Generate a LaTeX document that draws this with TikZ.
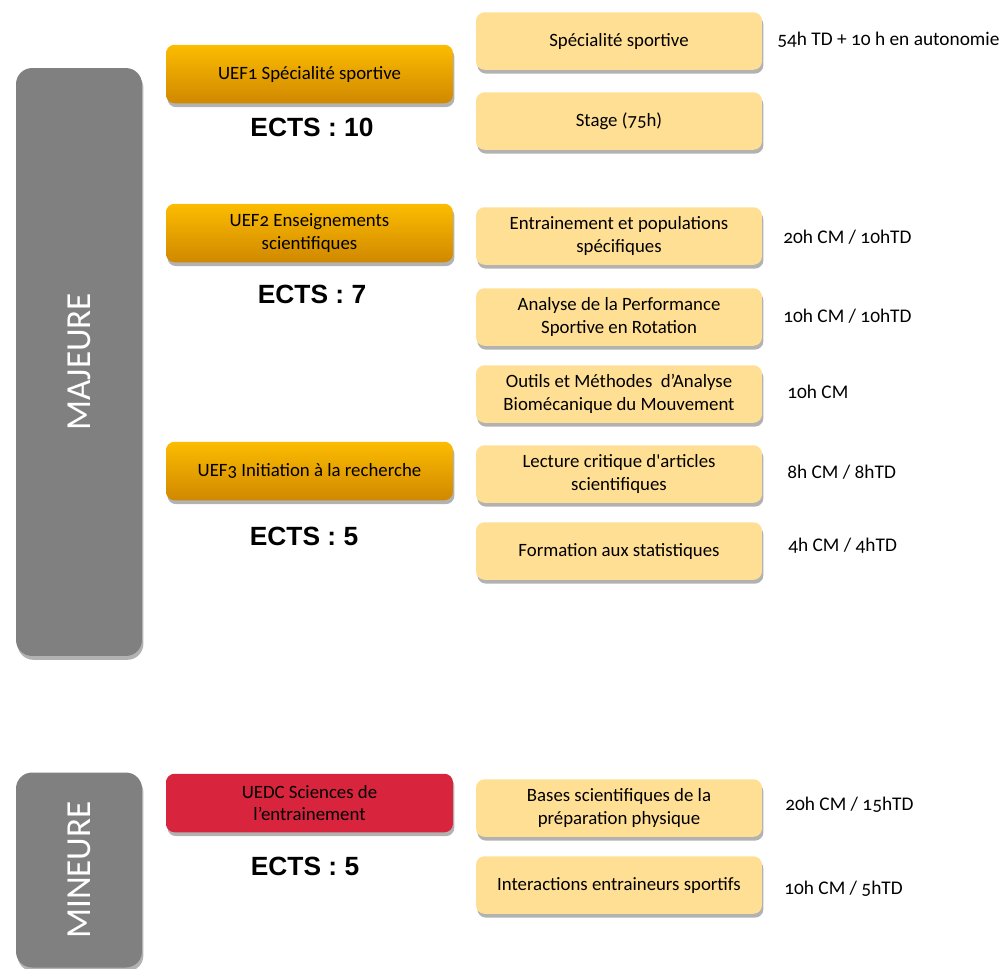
\documentclass[tikz,border=0pt]{standalone}
\usepackage{fontspec}
\setmainfont{Carlito}[Numbers=OldStyle]
\newfontfamily\ectsfont{Liberation Sans}
\usetikzlibrary{shadows}

\definecolor{bandgray}{HTML}{808080}
\definecolor{ecyellow}{HTML}{FFDF93}
\definecolor{uetop}{HTML}{FCBC00}
\definecolor{uebottom}{HTML}{D08800}
\definecolor{uedcred}{HTML}{D8253D}

\begin{document}
\begin{tikzpicture}[x=0.02cm, y=-0.02cm,
    boxshadow/.style={drop shadow={shadow xshift=0.8pt, shadow yshift=-2.2pt, fill=black, opacity=0.3}},
    band/.style={rounded corners=0.32cm, fill=bandgray, minimum width=2.52cm, boxshadow},
    bandtext/.style={rotate=90, text=white, font=\fontsize{20}{24}\selectfont},
    uef/.style={rounded corners=0.17cm, top color=uetop, bottom color=uebottom, minimum width=5.74cm,
        minimum height=1.17cm, align=center, inner sep=1pt, font=\fontsize{10.7}{13}\selectfont, boxshadow},
    uedc/.style={uef, top color=uedcred, bottom color=uedcred},
    ec/.style={rounded corners=0.17cm, fill=ecyellow, minimum width=5.72cm, minimum height=1.15cm,
        align=center, inner sep=1pt, font=\fontsize{10.7}{13}\selectfont, boxshadow},
    ects/.style={font=\ectsfont\bfseries\fontsize{15}{18}\selectfont},
    hours/.style={anchor=west, inner sep=0pt, font=\fontsize{11}{13}\selectfont}
]
    \useasboundingbox (0,0) rectangle (1003,968);

    % Majeure / mineure bands
    \node[band, minimum height=11.76cm] (majeure) at (79,362) {};
    \node[bandtext] (majeuretext) at (majeure) {MAJEURE};
    \node[band, minimum height=3.9cm] (mineure) at (79,870) {};
    \node[bandtext] (mineuretext) at (mineure) {MINEURE};

    % Units and credits
    \node[uef] (uef1) at (309.5,74) {UEF1 Spécialité sportive};
    \node[ects] (ects1) at (312,127) {ECTS : 10};
    \node[uef] (uef2) at (309.5,233) {UEF2 Enseignements\\ scientifiques};
    \node[ects] (ects2) at (312,294) {ECTS : 7};
    \node[uef] (uef3) at (309.5,471) {UEF3 Initiation à la recherche};
    \node[ects] (ects3) at (304,536) {ECTS : 5};
    \node[uedc] (uedc) at (309.5,803) {UEDC Sciences de\\ l’entrainement};
    \node[ects] (ects4) at (305,866) {ECTS : 5};

    % Courses
    \node[ec] (spe) at (619,41) {Spécialité sportive};
    \node[ec] (stage) at (619,121) {Stage (75h)};
    \node[ec] (entr) at (619,236) {Entrainement et populations\\ spécifiques};
    \node[ec] (perf) at (619,317) {Analyse de la Performance\\ Sportive en Rotation};
    \node[ec] (outils) at (619,394) {Outils et Méthodes~ d’Analyse\\ Biomécanique du Mouvement};
    \node[ec] (lect) at (619,474) {Lecture critique d\textquotesingle articles\\ scientifiques};
    \node[ec] (stat) at (619,551) {Formation aux statistiques};
    \node[ec] (bases) at (619,808) {Bases scientifiques de la\\ préparation physique};
    \node[ec] (inter) at (619,885) {Interactions entraineurs sportifs};

    % Hours
    \node[hours] (hspe) at (777,40) {54h TD + 10 h en autonomie};
    \node[hours] (hentr) at (783,237) {20h CM / 10hTD};
    \node[hours] (hperf) at (783,316) {10h CM / 10hTD};
    \node[hours] (houtils) at (787,392) {10h CM};
    \node[hours] (hlect) at (787,472) {8h CM / 8hTD};
    \node[hours] (hstat) at (788,546) {4h CM / 4hTD};
    \node[hours] (hbases) at (785,805) {20h CM / 15hTD};
    \node[hours] (hinter) at (784,889) {10h CM / 5hTD};

\end{tikzpicture}
\end{document}
